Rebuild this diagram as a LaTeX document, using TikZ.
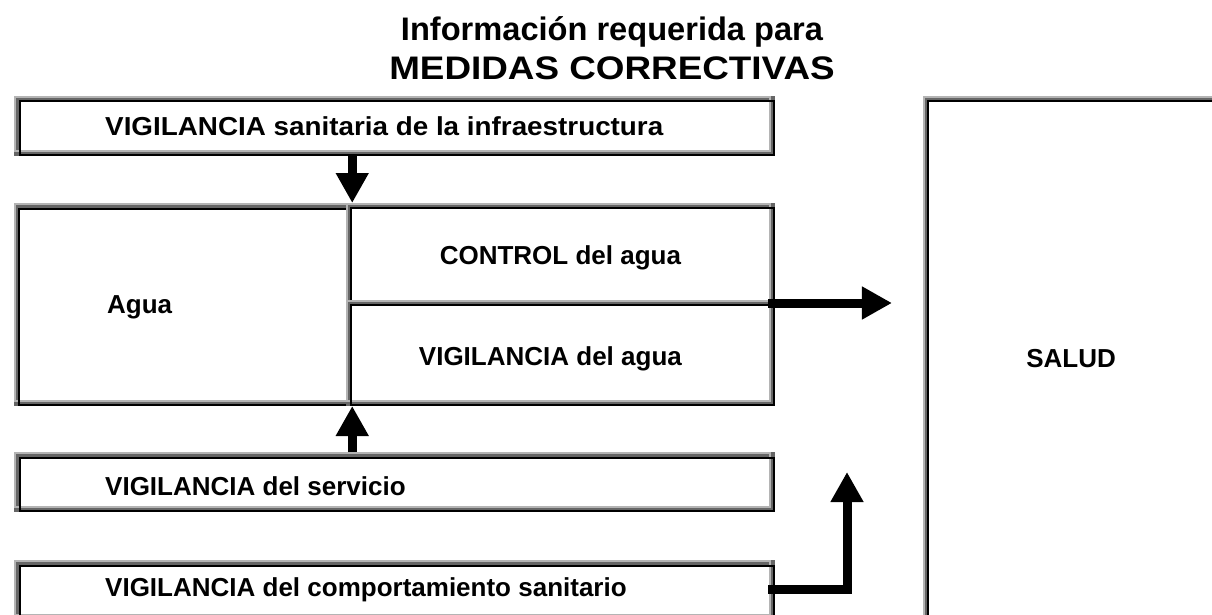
\documentclass[tikz,border=0pt]{standalone}
\usepackage{fontspec}
\setmainfont{Liberation Sans}
\usetikzlibrary{positioning, arrows.meta, calc}
\definecolor{framelight}{RGB}{180,180,180}
\definecolor{framedark}{RGB}{102,102,102}

\begin{document}
\begin{tikzpicture}[x=1pt, y=-1pt,
      frame/.style={draw=framedark, line width=6.5pt, inner sep=0pt,
            postaction={draw=framelight, line width=2pt,
                  transform canvas={shift={(-2.25pt,2.25pt)}}},
            postaction={draw=black, line width=2pt,
                  transform canvas={shift={(2.25pt,-2.25pt)}}}},
      txt/.style={inner sep=0pt, text height=18.6pt, text depth=0pt,
            font=\fontsize{26}{30}\selectfont\bfseries},
      title/.style={align=center, inner sep=0pt,
            font=\fontsize{32.6}{39}\selectfont\bfseries},
      bigarrow/.style={line width=9pt, line join=miter,
            -{Triangle[width=31pt, length=30pt]}},
      ]
      \useasboundingbox (0,0) rectangle (1212,615);

      % title
      \node[title] (title) at (612,48) {Información requerida para\\\scalebox{1.13}[1]{MEDIDAS CORRECTIVAS}};

      % boxes
      \node[frame, minimum width=754.5pt, minimum height=53.5pt] (infra) at (394.5,126) {};
      \node[frame, minimum width=331.75pt, minimum height=196.5pt] (agua) at (183.1,304.5) {};
      \node[frame, minimum width=422.75pt, minimum height=96.75pt] (control) at (560.4,254.6) {};
      \node[frame, minimum width=422.75pt, minimum height=99.75pt] (vigagua) at (560.4,352.9) {};
      \node[frame, minimum width=754.5pt, minimum height=53.5pt] (serv) at (394.5,482) {};
      \node[frame, minimum width=754.5pt, minimum height=53.5pt] (comp) at (394.5,590) {};
      \node[frame, minimum width=289.75pt, minimum height=518.75pt] (salud) at (1071.1,358.6) {};

      % labels
      \node[txt, anchor=west] (infratxt) at ([xshift=91pt]infra.west) {\scalebox{1.07}[1]{VIGILANCIA sanitaria de la infraestructura}};
      \node[txt, anchor=west] (aguatxt) at ([xshift=93pt]agua.west) {Agua};
      \node[txt] (controltxt) at ([yshift=-1pt]control) {CONTROL del agua};
      \node[txt] (vigaguatxt) at ([xshift=-10pt,yshift=-3pt]vigagua) {VIGILANCIA del agua};
      \node[txt, anchor=west] (servtxt) at ([xshift=91pt,yshift=-4pt]serv.west) {VIGILANCIA del servicio};
      \node[txt, anchor=west] (comptxt) at ([xshift=91pt,yshift=3pt]comp.west) {VIGILANCIA del comportamiento sanitario};
      \node[txt] (saludtxt) at (salud) {SALUD};

      % arrows
      \coordinate (mid) at ($(control.south east)!0.5!(vigagua.north east)$);
      \coordinate (up) at (847,472);
      \draw[bigarrow] (agua.north east |- infra.south) -- (agua.north east);
      \draw[bigarrow] (agua.south east |- serv.north) -- (agua.south east);
      \draw[bigarrow] ([xshift=-7pt]mid) -- ([xshift=-31pt]salud.west |- mid);
      \draw[bigarrow] ([xshift=-7pt,yshift=1pt]comp.east) -| (up);
\end{tikzpicture}
\end{document}
